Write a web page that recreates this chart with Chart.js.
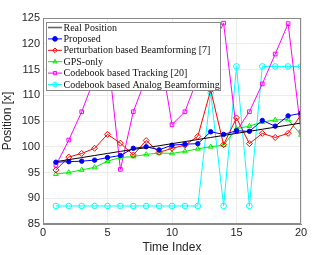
<!DOCTYPE html>
<html>
<head>
<meta charset="utf-8">
<script src="https://cdn.jsdelivr.net/npm/chart.js@4/dist/chart.umd.min.js"></script>
<style>
  html, body { margin: 0; padding: 0; background: #fff; }
  #wrap { width: 332px; height: 255px; }
</style>
</head>
<body>
<div id="wrap"><canvas id="grafico"></canvas></div>
<script>
// data
const timeIndex = [1, 2, 3, 4, 5, 6, 7, 8, 9, 10, 11, 12, 13, 14, 15, 16, 17, 18, 19, 20];
const realPosition = [97.1, 97.5, 97.9, 98.3, 98.7, 99.1, 99.5, 99.8, 100.2, 100.6, 101.0, 101.4, 101.8, 102.2, 102.6, 103.0, 103.4, 103.8, 104.2, 104.6];
const proposed = [97.0, 97.1, 97.2, 97.4, 97.9, 98.3, 99.7, 100.0, 99.4, 100.3, 100.5, 100.6, 102.9, 102.4, 103.1, 103.0, 105.1, 104.0, 106.0, 106.5];
const perturbation = [95.5, 98.0, 98.7, 99.7, 102.4, 100.7, 98.4, 101.2, 98.9, 99.7, 100.3, 102.0, 111.0, 100.4, 105.6, 100.6, 102.6, 101.8, 102.6, 106.2];
const gpsOnly = [94.7, 95.0, 95.5, 96.0, 97.2, 97.9, 98.1, 98.5, 98.8, 98.7, 99.1, 99.6, 100.0, 100.3, 103.5, 104.0, 104.8, 105.2, 105.3, 102.3];
const codebookTracking = [96.4, 101.3, 106.8, 113.4, 118.6, 95.6, 106.8, 113.4, 119.5, 104.3, 106.8, 113.4, 119.0, 124.0, 103.1, 106.8, 112.2, 118.0, 123.9, 102.9];
const codebookAnalog = [88.5, 88.5, 88.5, 88.5, 88.5, 88.5, 88.5, 88.5, 88.5, 88.5, 88.5, 88.5, 110.5, 88.5, 115.6, 88.5, 115.6, 115.6, 115.6, 115.6];
const yTicks = [85, 90, 95, 100, 105, 110, 115, 120, 125];
const xTicks = [0, 5, 10, 15, 20];

function pontos(valores) {
  return valores.map((v, i) => ({ x: timeIndex[i], y: v }));
}

// legend drawn inside the plot, like the matlab box
const legendaInterna = {
  id: 'legendaInterna',
  afterDraw(chart) {
    const ctx = chart.ctx;
    const area = chart.chartArea;
    ctx.save();
    // frame top/right
    ctx.strokeStyle = '#8a8a8a';
    ctx.lineWidth = 1;
    ctx.strokeRect(area.left + 0.5, area.top + 0.5, area.right - area.left - 1, area.bottom - area.top - 1);

    const bx = 46.5, by = 22.5, bw = 174, bh = 68;
    ctx.fillStyle = '#fff';
    ctx.fillRect(bx, by, bw, bh);
    ctx.strokeStyle = '#8a8a8a';
    ctx.strokeRect(bx, by, bw, bh);

    ctx.font = '10px "Liberation Serif", "DejaVu Serif", serif';
    ctx.textBaseline = 'middle';
    chart.data.datasets.forEach((ds, i) => {
      const yy = 27.5 + i * 11.4;
      ctx.strokeStyle = i === 0 ? '#666' : ds.borderColor;
      ctx.lineWidth = i === 0 ? 1.6 : 1;
      ctx.beginPath();
      ctx.moveTo(48, yy);
      ctx.lineTo(62, yy);
      ctx.stroke();
      if (ds.pointStyle && ds.pointRadius > 0) {
        ctx.fillStyle = ds.pointBackgroundColor;
        ctx.strokeStyle = ds.borderColor;
        ctx.lineWidth = 1;
        Chart.helpers.drawPoint(ctx, {
          pointStyle: ds.pointStyle,
          radius: 2.3,
          borderWidth: 1
        }, 55, yy);
      }
      ctx.fillStyle = '#111';
      ctx.fillText(ds.label, 63.5, yy + 0.5);
    });
    ctx.restore();
  }
};

function serie(label, valores, cor, estilo, preenchido, raio) {
  return {
    label: label,
    data: pontos(valores),
    borderColor: cor,
    backgroundColor: cor,
    pointBackgroundColor: preenchido ? cor : 'rgba(255,255,255,0)',
    pointBorderColor: cor,
    pointStyle: estilo,
    pointRadius: estilo ? raio : 0,
    pointBorderWidth: 1,
    borderWidth: 1,
    tension: 0
  };
}

const grafico = new Chart(document.getElementById('grafico'), {
  type: 'line',
  data: {
    datasets: [
      serie('Real Position', realPosition, '#000000', false, false, 0),
      serie('Proposed', proposed, '#0000ff', 'circle', true, 2.2),
      serie('Perturbation based Beamforming [7]', perturbation, '#ff0000', 'rectRot', false, 3),
      serie('GPS-only', gpsOnly, '#00ee00', 'triangle', false, 2.8),
      serie('Codebook based Tracking [20]', codebookTracking, '#ff00ff', 'rect', false, 2.6),
      serie('Codebook based Analog Beamforming', codebookAnalog, '#00ffff', 'circle', false, 2.8)
    ]
  },
  options: {
    responsive: true,
    maintainAspectRatio: false,
    animation: false,
    layout: { padding: { top: 18, right: 31, left: 0, bottom: 0 } },
    plugins: { legend: { display: false }, tooltip: { enabled: false } },
    scales: {
      x: {
        type: 'linear',
        min: 0, max: 20,
        afterBuildTicks: (s) => { s.ticks = xTicks.map(v => ({ value: v })); },
        afterFit: (s) => { s.height = 31; },
        grid: { color: '#ececec', drawTicks: false },
        border: { color: '#8a8a8a' },
        ticks: { color: '#262626', font: { family: 'Liberation Sans', size: 11 }, padding: 2 },
        title: { display: true, text: 'Time Index', color: '#262626', font: { family: 'Liberation Sans', size: 12 }, padding: { top: 0, bottom: 0 } }
      },
      y: {
        min: 85, max: 125,
        afterBuildTicks: (s) => { s.ticks = yTicks.map(v => ({ value: v })); },
        afterFit: (s) => { s.width = 43; },
        grid: { color: '#ececec', drawTicks: false },
        border: { color: '#8a8a8a' },
        ticks: { color: '#262626', font: { family: 'Liberation Sans', size: 11 }, padding: 3 },
        title: { display: true, text: 'Position [x]', color: '#262626', font: { family: 'Liberation Sans', size: 12 }, padding: { top: 0, bottom: 1 } }
      }
    }
  },
  plugins: [legendaInterna]
});
</script>
</body>
</html>
